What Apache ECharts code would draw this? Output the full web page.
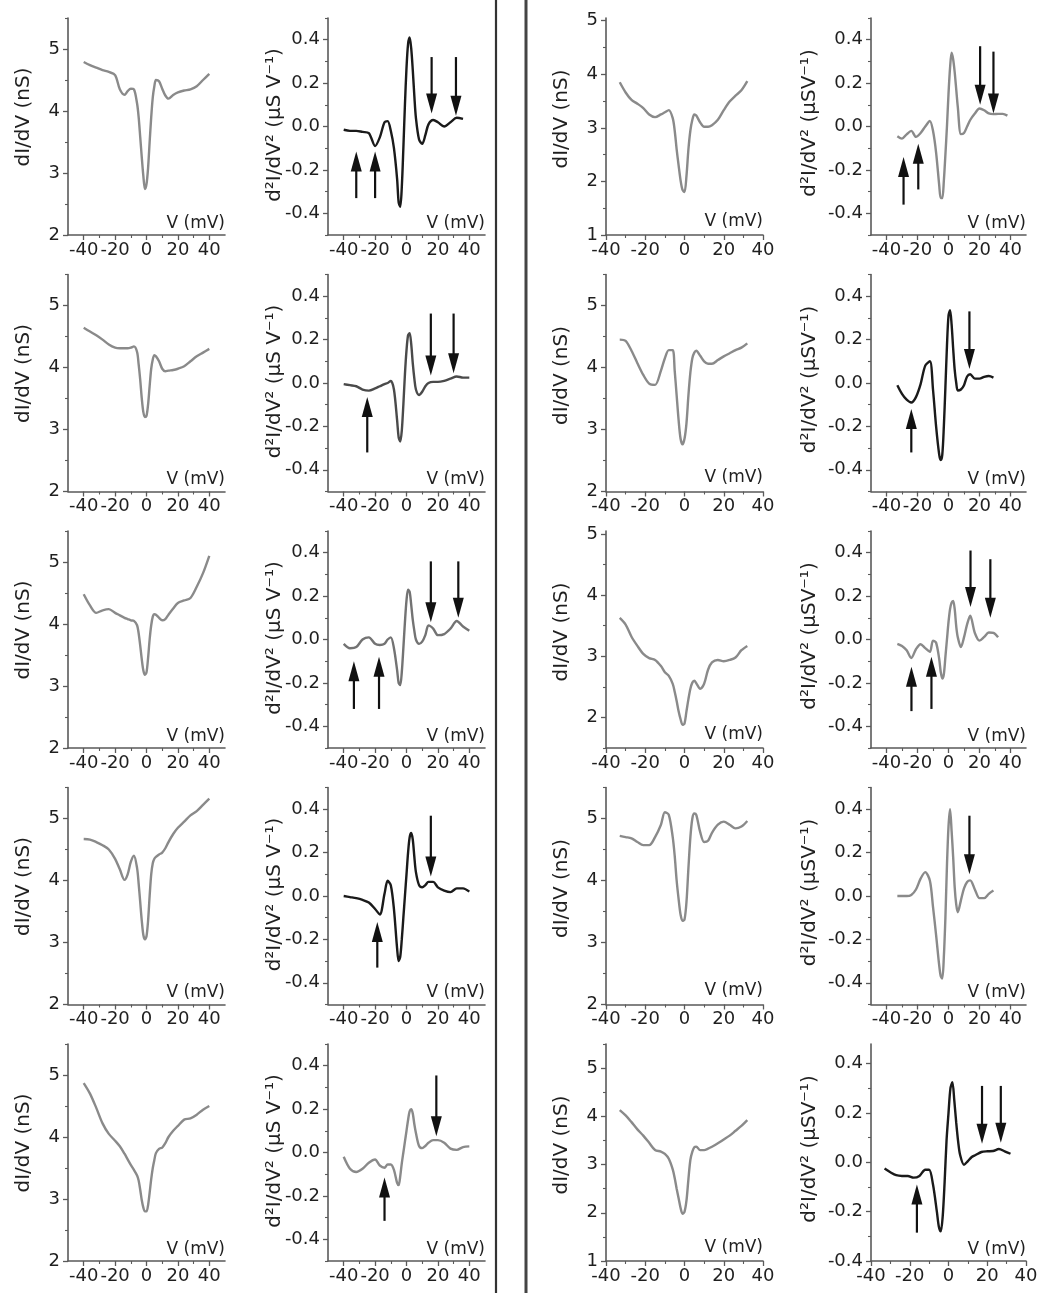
<!DOCTYPE html>
<html>
<head>
<meta charset="utf-8">
<title>Tunnelling spectra: dI/dV and d2I/dV2</title>
<script src="https://cdn.jsdelivr.net/npm/echarts@6/dist/echarts.min.js"></script>
<style>
  html, body { margin: 0; padding: 0; background: #ffffff; }
  #chart { width: 1037px; height: 1293px; }
</style>
</head>
<body>
<div id="chart"></div>
<script>
// ---- bias voltage samples (mV) ----
const V_LEFT = [-40,-36,-32,-28,-24,-20,-17,-14,-12,-10,-8,-6,-5,-4,-3,-2,-1,0,1,2,3,4,5,6,8,10,12,14,17,20,24,28,32,36,40];
const V_RIGHT = [-33,-30,-27,-24,-21,-18,-15,-12,-10,-8,-6,-5,-4,-3,-2,-1,0,1,2,3,4,5,6,8,10,12,14,17,20,23,26,29,32,35,38];

// ---- left block: dI/dV (nS) ----
const didvL1 = [4.79,4.74,4.70,4.66,4.63, 4.58,4.35,4.26,4.32,4.36, 4.35,4.12,3.90,3.58,3.25, 2.95,2.74,2.82,3.08,3.50, 3.90,4.22,4.40,4.50,4.48, 4.36,4.25,4.20,4.26,4.30, 4.33,4.35,4.40,4.50,4.60];
const didvL2 = [4.64,4.58,4.52,4.45,4.37, 4.32,4.31,4.31,4.31,4.32, 4.34,4.25,4.05,3.80,3.50, 3.28,3.20,3.22,3.40,3.70, 3.98,4.13,4.20,4.18,4.10, 3.98,3.94,3.95,3.96,3.98, 4.02,4.10,4.18,4.24,4.30];
const didvL3 = [4.48,4.30,4.18,4.22,4.24, 4.18,4.14,4.10,4.08,4.06, 4.05,3.98,3.85,3.65,3.43, 3.25,3.18,3.22,3.45,3.75, 3.98,4.12,4.16,4.15,4.10, 4.06,4.08,4.15,4.25,4.34, 4.38,4.42,4.60,4.82,5.10];
const didvL4 = [4.67,4.66,4.62,4.57,4.50, 4.35,4.18,4.01,4.10,4.30, 4.40,4.20,3.95,3.65,3.35, 3.12,3.05,3.10,3.35,3.75, 4.10,4.28,4.35,4.38,4.42, 4.45,4.52,4.62,4.75,4.85, 4.95,5.05,5.12,5.22,5.32];
const didvL5 = [4.87,4.70,4.47,4.22,4.05, 3.94,3.85,3.73,3.64,3.55, 3.47,3.38,3.30,3.15,2.98, 2.86,2.80,2.80,2.90,3.10, 3.32,3.50,3.63,3.74,3.81, 3.83,3.90,4.00,4.10,4.18, 4.28,4.30,4.36,4.44,4.50];

// ---- left block: d2I/dV2 (uS/V) ----
const d2L1 = [-0.015,-0.02,-0.02,-0.025,-0.03, -0.09,-0.05,0.02,0.025,-0.02, -0.10,-0.24,-0.35,-0.37,-0.28, -0.10,0.10,0.27,0.38,0.41, 0.36,0.26,0.14,0.04,-0.06, -0.08,-0.04,0.01,0.03,0.02, 0.00,0.02,0.04,0.035,null];
const d2L2 = [-0.005,-0.01,-0.015,-0.03,-0.035, -0.025,-0.015,-0.005,0.0,0.01, -0.03,-0.17,-0.25,-0.27,-0.22, -0.10,0.04,0.15,0.22,0.23, 0.18,0.09,0.02,-0.03,-0.055, -0.04,-0.015,0.0,0.005,0.005, 0.01,0.02,0.03,0.025,0.025];
const d2L3 = [-0.02,-0.04,-0.035,0.0,0.01, -0.02,-0.025,-0.02,0.0,0.01, -0.04,-0.14,-0.20,-0.21,-0.15, -0.04,0.08,0.18,0.23,0.22, 0.16,0.09,0.04,0.0,-0.02, -0.01,0.02,0.065,0.05,0.02, 0.025,0.05,0.085,0.06,0.04];
const d2L4 = [0.0,-0.005,-0.01,-0.018,-0.03, -0.06,-0.085,0.01,0.07,0.05, -0.06,-0.24,-0.30,-0.28,-0.20, -0.10,0.0,0.10,0.20,0.27, 0.29,0.26,0.18,0.11,0.05, 0.04,0.05,0.065,0.065,0.04, 0.025,0.018,0.035,0.035,0.02];
const d2L5 = [-0.02,-0.075,-0.09,-0.075,-0.047, -0.032,-0.06,-0.07,-0.055,-0.055, -0.08,-0.14,-0.15,-0.11,-0.05, 0.0,0.05,0.10,0.15,0.19, 0.20,0.18,0.13,0.09,0.03, 0.02,0.03,0.045,0.057,0.057, 0.045,0.018,0.012,0.025,0.028];

// ---- right block: dI/dV (nS) ----
const didvR1 = [3.85,3.66,3.52,3.45,3.37, 3.25,3.20,3.25,3.29,3.33, 3.18,2.95,2.60,2.30,2.02, 1.84,1.80,2.10,2.60,2.95, 3.15,3.25,3.23,3.10,3.02, 3.02,3.05,3.15,3.33,3.49, 3.60,3.70,3.87,null,null];
const didvR2 = [4.45,4.43,4.27,4.07,3.88, 3.74,3.72,3.95,4.15,4.28, 4.28,3.95,3.55,3.15,2.85, 2.76,2.85,3.10,3.55,3.92, 4.15,4.24,4.27,4.19,4.10, 4.06,4.06,4.12,4.18,4.23, 4.28,4.32,4.39,null,null];
const didvR3 = [3.63,3.52,3.32,3.17,3.04, 2.97,2.94,2.84,2.74,2.68, 2.55,2.42,2.27,2.10,1.97, 1.88,1.90,2.10,2.30,2.47, 2.57,2.60,2.56,2.47,2.55, 2.78,2.90,2.94,2.92,2.94, 2.98,3.10,3.17,null,null];
const didvR4 = [4.72,4.70,4.68,4.62,4.57, 4.57,4.70,4.90,5.10,5.06, 4.70,4.40,4.00,3.70,3.45, 3.35,3.37,3.65,4.20,4.70, 5.00,5.08,5.06,4.78,4.62, 4.64,4.77,4.90,4.95,4.90, 4.84,4.87,4.96,null,null];
const didvR5 = [4.13,4.02,3.88,3.73,3.60, 3.45,3.30,3.27,3.22,3.12, 2.90,2.72,2.50,2.30,2.10, 1.98,2.02,2.25,2.70,3.10, 3.27,3.36,3.37,3.30,3.30, 3.33,3.37,3.44,3.52,3.60, 3.70,3.80,3.92,null,null];

// ---- right block: d2I/dV2 (uS/V) ----
const d2R1 = [-0.045,-0.056,-0.036,-0.02,-0.048, -0.03,0.0,0.025,-0.02,-0.12, -0.27,-0.33,-0.33,-0.25,-0.13, 0.0,0.15,0.27,0.34,0.31, 0.25,0.17,0.09,-0.035,-0.03, 0.0,0.03,0.06,0.083,0.075, 0.06,0.057,0.058,0.058,0.05];
const d2R2 = [-0.01,-0.05,-0.077,-0.09,-0.065, -0.005,0.08,0.10,-0.03,-0.20, -0.33,-0.355,-0.33,-0.20,-0.02, 0.17,0.31,0.335,0.27,0.16, 0.06,0.0,-0.035,-0.03,-0.01, 0.03,0.04,0.02,0.02,0.028, 0.032,0.025,null,null,null];
const d2R3 = [-0.02,-0.03,-0.05,-0.085,-0.045, -0.022,-0.04,-0.057,-0.005,-0.015, -0.09,-0.15,-0.18,-0.16,-0.08, 0.0,0.08,0.14,0.17,0.178, 0.14,0.06,0.01,-0.035,0.01, 0.07,0.11,0.03,-0.005,0.012, 0.032,0.03,0.01,null,null];
const d2R4 = [0.0,0.0,0.0,0.005,0.03, 0.08,0.11,0.07,-0.05,-0.18, -0.32,-0.37,-0.38,-0.28,-0.10, 0.14,0.32,0.40,0.30,0.18, 0.04,-0.04,-0.075,-0.02,0.035, 0.065,0.072,0.03,-0.01,-0.01, 0.01,0.025,null,null,null];
const d2R5 = [-0.025,-0.04,-0.052,-0.055,-0.055, -0.062,-0.055,-0.03,-0.03,-0.09, -0.20,-0.26,-0.28,-0.22,-0.08, 0.09,0.20,0.30,0.325,0.25, 0.16,0.083,0.03,-0.01,0.005, 0.022,0.03,0.042,0.045,0.046, 0.054,0.045,0.035,null,null];

// ---- arrows marking features: [bias mV, tail value, tip value] ----
const arrowsL1 = [[-32,-0.33,-0.115],[-20,-0.33,-0.115],[16,0.32,0.06],[31.5,0.32,0.05]];
const arrowsL2 = [[-25,-0.32,-0.065],[15.5,0.32,0.035],[30,0.32,0.045]];
const arrowsL3 = [[-33.5,-0.32,-0.10],[-17.5,-0.32,-0.08],[15.5,0.36,0.08],[33,0.36,0.10]];
const arrowsL4 = [[-18.6,-0.33,-0.12],[15.5,0.37,0.09]];
const arrowsL5 = [[-14,-0.315,-0.115],[19,0.355,0.075]];
const arrowsR1 = [[-29,-0.36,-0.14],[-19.5,-0.29,-0.08],[20.4,0.37,0.10],[29,0.345,0.06]];
const arrowsR2 = [[-24,-0.32,-0.12],[13.5,0.33,0.065]];
const arrowsR3 = [[-23.9,-0.33,-0.125],[-11,-0.32,-0.08],[14.2,0.41,0.15],[27,0.37,0.10]];
const arrowsR4 = [[13.5,0.37,0.10]];
const arrowsR5 = [[-16.3,-0.285,-0.09],[17.3,0.31,0.075],[27,0.31,0.08]];

// ---- tick values ----
const X_TICKS = [-40,-20,0,20,40];
const X_MINOR = [-30,-10,10,30];
const G_TICKS = [1,2,3,4,5];
const G_MINOR = [1.5,2.5,3.5,4.5,5.5];
const D_TICKS = [-0.4,-0.2,0,0.2,0.4];
const D_MINOR = [-0.5,-0.3,-0.1,0.1,0.3,0.5];

// ---- text ----
const TITLE_G = 'dI/dV (nS)';
const TITLE_D_LEFT = 'd\u00B2I/dV\u00B2 (\u00B5S V\u207B\u00B9)';
const TITLE_D_RIGHT = 'd\u00B2I/dV\u00B2 (\u00B5SV\u207B\u00B9)';
const X_NAME = 'V (mV)';

// ---- styling / layout ----
const FONT = '"DejaVu Sans", "Liberation Sans", sans-serif';
const AXIS = '#5a5a5a';
const TEXT = '#1f1f1f';
const GRAY = '#8a8a8a', SOFT = '#737373', MID = '#4a4a4a', DARK = '#1a1a1a';
const COL_LEFT = [68, 328, 606, 871];
const COL_WIDTH = [157, 157, 157, 155];
const ROW_TOP0 = 18, ROW_STEP = 256.5, PLOT_H = 217;
const TITLE_X = [24, 275, 562, 810];
const TITLE_DY = [99, 107, 101, 105];
const NAME_PAD = [3, 3, 5, 3];

const panels = [
  // left dI/dV column
  { col: 0, row: 0, v: V_LEFT, y: didvL1, color: GRAY, xr: [-50, 50], yr: [2, 5.5], kind: 'g' },
  { col: 0, row: 1, v: V_LEFT, y: didvL2, color: GRAY, xr: [-50, 50], yr: [2, 5.5], kind: 'g' },
  { col: 0, row: 2, v: V_LEFT, y: didvL3, color: GRAY, xr: [-50, 50], yr: [2, 5.5], kind: 'g' },
  { col: 0, row: 3, v: V_LEFT, y: didvL4, color: GRAY, xr: [-50, 50], yr: [2, 5.5], kind: 'g' },
  { col: 0, row: 4, v: V_LEFT, y: didvL5, color: GRAY, xr: [-50, 50], yr: [2, 5.5], kind: 'g' },
  // left d2I/dV2 column
  { col: 1, row: 0, v: V_LEFT, y: d2L1, color: DARK, xr: [-50, 50], yr: [-0.5, 0.5], kind: 'd', arrows: arrowsL1 },
  { col: 1, row: 1, v: V_LEFT, y: d2L2, color: MID,  xr: [-50, 50], yr: [-0.5, 0.5], kind: 'd', arrows: arrowsL2 },
  { col: 1, row: 2, v: V_LEFT, y: d2L3, color: SOFT, xr: [-50, 50], yr: [-0.5, 0.5], kind: 'd', arrows: arrowsL3 },
  { col: 1, row: 3, v: V_LEFT, y: d2L4, color: DARK, xr: [-50, 50], yr: [-0.5, 0.5], kind: 'd', arrows: arrowsL4 },
  { col: 1, row: 4, v: V_LEFT, y: d2L5, color: GRAY, xr: [-50, 50], yr: [-0.5, 0.5], kind: 'd', arrows: arrowsL5 },
  // right dI/dV column
  { col: 2, row: 0, v: V_RIGHT, y: didvR1, color: GRAY, xr: [-40, 40], yr: [1, 5.05], kind: 'g' },
  { col: 2, row: 1, v: V_RIGHT, y: didvR2, color: GRAY, xr: [-40, 40], yr: [2, 5.5], kind: 'g' },
  { col: 2, row: 2, v: V_RIGHT, y: didvR3, color: GRAY, xr: [-40, 40], yr: [1.5, 5.05], kind: 'g' },
  { col: 2, row: 3, v: V_RIGHT, y: didvR4, color: GRAY, xr: [-40, 40], yr: [2, 5.5], kind: 'g' },
  { col: 2, row: 4, v: V_RIGHT, y: didvR5, color: GRAY, xr: [-40, 40], yr: [1, 5.5], kind: 'g' },
  // right d2I/dV2 column
  { col: 3, row: 0, v: V_RIGHT, y: d2R1, color: GRAY, xr: [-50, 50], yr: [-0.5, 0.5], kind: 'd', arrows: arrowsR1 },
  { col: 3, row: 1, v: V_RIGHT, y: d2R2, color: DARK, xr: [-50, 50], yr: [-0.5, 0.5], kind: 'd', arrows: arrowsR2 },
  { col: 3, row: 2, v: V_RIGHT, y: d2R3, color: GRAY, xr: [-50, 50], yr: [-0.5, 0.5], kind: 'd', arrows: arrowsR3 },
  { col: 3, row: 3, v: V_RIGHT, y: d2R4, color: GRAY, xr: [-50, 50], yr: [-0.5, 0.5], kind: 'd', arrows: arrowsR4 },
  { col: 3, row: 4, v: V_RIGHT, y: d2R5, color: DARK, xr: [-40, 40], yr: [-0.4, 0.48], kind: 'd', arrows: arrowsR5 }
];

const inRange = (vals, r) => vals.filter(v => v >= r[0] - 1e-9 && v <= r[1] + 1e-9);

function majorAxis(dim, gridIndex, range, ticks, formatter, extra) {
  return Object.assign({
    type: 'value', gridIndex, min: range[0], max: range[1],
    position: dim === 'x' ? 'bottom' : 'left',
    axisLine: { show: true, onZero: false, lineStyle: { color: AXIS, width: 1.6 } },
    axisTick: { show: true, inside: false, customValues: ticks, length: 5, lineStyle: { color: AXIS, width: 1.3 } },
    axisLabel: {
      show: true, customValues: ticks, formatter,
      fontFamily: FONT, fontSize: 18, color: TEXT, margin: dim === 'x' ? 6 : 8
    },
    splitLine: { show: false }, minorTick: { show: false }, axisPointer: { show: false }
  }, extra || {});
}

function minorAxis(dim, gridIndex, range, ticks) {
  return {
    type: 'value', gridIndex, min: range[0], max: range[1],
    position: dim === 'x' ? 'bottom' : 'left',
    axisLine: { show: false, onZero: false },
    axisTick: { show: true, inside: false, customValues: ticks, length: 3, lineStyle: { color: AXIS, width: 1.1 } },
    axisLabel: { show: false },
    splitLine: { show: false }, axisPointer: { show: false }
  };
}

// arrow: shaft from tail to head base, filled triangular head ending at the tip
function drawArrow(params, api) {
  const x = api.value(0);
  const tail = api.coord([x, api.value(1)]);
  const tip = api.coord([x, api.value(2)]);
  const dir = tip[1] > tail[1] ? 1 : -1;
  const H = 20, W = 11;
  const baseY = tip[1] - dir * H;
  return {
    type: 'group',
    children: [
      { type: 'line', shape: { x1: tail[0], y1: tail[1], x2: tail[0], y2: baseY + dir * 2 },
        style: { stroke: '#111111', lineWidth: 2.2 } },
      { type: 'polygon', shape: { points: [[tip[0], tip[1]], [tip[0] - W / 2, baseY], [tip[0] + W / 2, baseY]] },
        style: { fill: '#111111' } }
    ]
  };
}

const option = {
  animation: false,
  backgroundColor: '#ffffff',
  grid: [], xAxis: [], yAxis: [], series: [], graphic: []
};

panels.forEach((p, i) => {
  const left = COL_LEFT[p.col];
  const width = COL_WIDTH[p.col];
  const top = ROW_TOP0 + ROW_STEP * p.row;
  option.grid.push({ left, top, width, height: PLOT_H, containLabel: false, outerBoundsMode: 'none' });

  const xMajor = inRange(X_TICKS, p.xr);
  const xMinor = inRange(X_MINOR, p.xr);
  const yMajor = inRange(p.kind === 'g' ? G_TICKS : D_TICKS, p.yr);
  const yMinor = inRange(p.kind === 'g' ? G_MINOR : D_MINOR, p.yr);
  const yFmt = p.kind === 'g' ? (v => String(Math.round(v))) : (v => v.toFixed(1));

  option.xAxis.push(majorAxis('x', i, p.xr, xMajor, v => String(Math.round(v)), {
    name: X_NAME, nameLocation: 'end', nameGap: 0,
    nameTextStyle: { fontFamily: FONT, fontSize: 17, color: TEXT, align: 'right', verticalAlign: 'bottom',
                     padding: [0, 0, NAME_PAD[p.col], 0] }
  }));
  option.xAxis.push(minorAxis('x', i, p.xr, xMinor));
  option.yAxis.push(majorAxis('y', i, p.yr, yMajor, yFmt));
  option.yAxis.push(minorAxis('y', i, p.yr, yMinor));

  const axisIdx = 2 * i;
  const pts = [];
  p.v.forEach((mv, k) => { if (p.y[k] !== null && p.y[k] !== undefined) pts.push([mv, p.y[k]]); });
  option.series.push({
    type: 'line', xAxisIndex: axisIdx, yAxisIndex: axisIdx, data: pts,
    showSymbol: false, symbol: 'none', smooth: 0.3, silent: true,
    lineStyle: { color: p.color, width: 2.4 }, z: 3
  });
  if (p.arrows) {
    option.series.push({
      type: 'custom', xAxisIndex: axisIdx, yAxisIndex: axisIdx, data: p.arrows,
      encode: { x: 0, y: [1, 2] }, renderItem: drawArrow, silent: true, clip: false, z: 5
    });
  }

  const title = p.kind === 'g' ? TITLE_G : (p.col === 1 ? TITLE_D_LEFT : TITLE_D_RIGHT);
  option.graphic.push({
    type: 'text', x: TITLE_X[p.col], y: top + TITLE_DY[p.col], rotation: Math.PI / 2, silent: true,
    style: { text: title, font: '20px ' + FONT, fill: TEXT, align: 'center', verticalAlign: 'middle' }
  });
});

// separators between the two blocks of spectra
option.graphic.push(
  { type: 'line', silent: true, shape: { x1: 496, y1: 0, x2: 496, y2: 1293 }, style: { stroke: '#333333', lineWidth: 2.2 } },
  { type: 'line', silent: true, shape: { x1: 526, y1: 0, x2: 526, y2: 1293 }, style: { stroke: '#444444', lineWidth: 3 } }
);

const chart = echarts.init(document.getElementById('chart'), null, { renderer: 'canvas' });
chart.setOption(option);
</script>
</body>
</html>
